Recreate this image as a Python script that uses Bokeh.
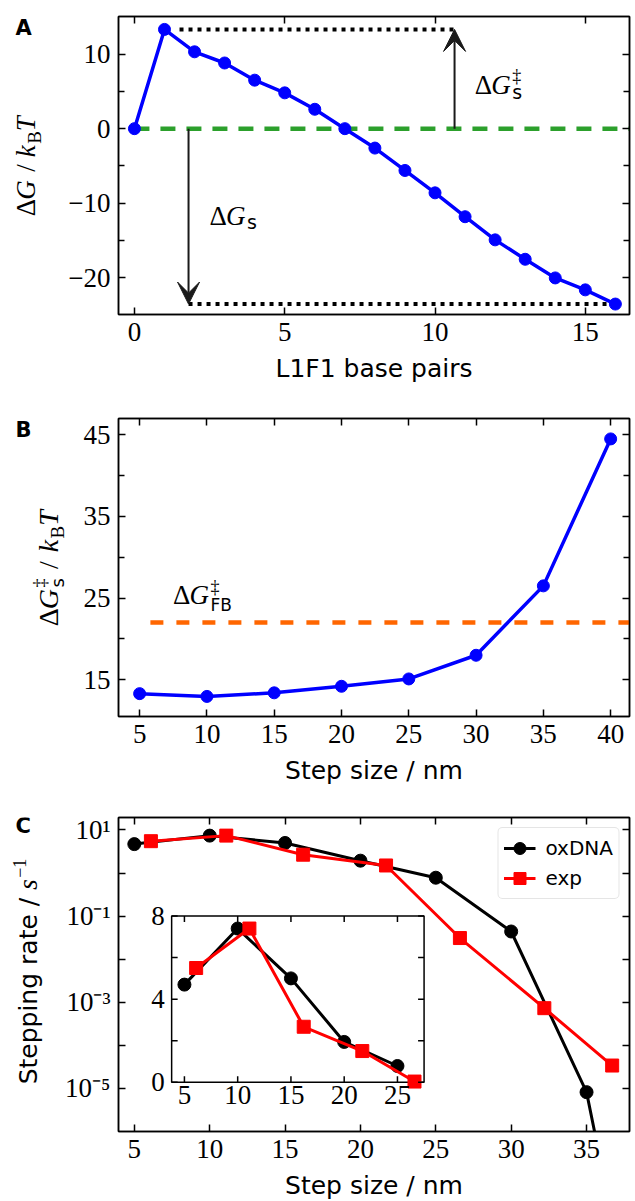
import math
from bokeh.plotting import figure
from bokeh.layouts import column, row
from bokeh.models import (Label, Arrow, VeeHead, FixedTicker, LinearAxis, LogAxis,
                          CustomJSTickFormatter, Range1d, LinearScale, Legend, LegendItem)
from bokeh.embed import file_html
from bokeh.resources import INLINE
from bokeh.core.properties import value

# ---------------- Panel A data ----------------
bp = list(range(17))
dG = [0.0, 13.3, 10.3, 8.8, 6.5, 4.8, 2.6, 0.0, -2.6, -5.6, -8.6, -11.8, -14.9, -17.5, -20.0, -21.6, -23.5]
zero_level = 0.0
a_xticks = [0, 5, 10, 15]
a_yticks = [-20, -10, 0, 10]
a_yminor = [-15, -5, 5]
a_top_dots_x = [1.5, 10.65]
a_bottom_dots_x = [1.8, 16.0]
a_arrow_x = [1.8, 10.65]
a_zero_x = [0.0, 16.5]

# ---------------- Panel B data ----------------
step_b = [5, 10, 15, 20, 25, 30, 35, 40]
barrier = [13.3, 12.96, 13.4, 14.2, 15.1, 18.0, 26.5, 44.5]
fb_level = 22.0
fb_x = [5.8, 41.4]
b_xticks = [5, 10, 15, 20, 25, 30, 35, 40]
b_yticks = [15, 25, 35, 45]
b_yminor = [20, 30, 40]

# ---------------- Panel C data ----------------
series_names = ["oxDNA", "exp"]
step_ox = [5, 10, 15, 20, 25, 30, 35, 40]
rate_ox = [4.7, 7.4, 5.0, 1.94, 0.78, 0.044, 8.2e-6, 2e-14]
step_exp = [6.1, 11.1, 16.2, 21.7, 26.6, 32.2, 36.7]
rate_exp = [5.5, 7.4, 2.67, 1.5, 0.031, 7.3e-4, 3.4e-5]
c_xticks = [5, 10, 15, 20, 25, 30, 35]
c_yticks = [1e-5, 1e-4, 1e-3, 1e-2, 1e-1, 1.0, 10.0]
inset_n = 5
in_xticks = [5, 10, 15, 20, 25]
in_yticks = [0, 4, 8]
in_yminor = [2, 6]
in_xlim = [3.8, 27.5]
in_ylim = [0.0, 8.0]

# ---------------- layout constants ----------------
FW = 511
LEFT_TOTAL, RIGHT = 118, 6
SERIF = "serif"
SANS = "DejaVu Sans"
TICK_PX = "27px"
BASE_CORR = 0.28   # empirical shift of the alphabetic baseline, in em
BLUE, GREEN, ORANGE, RED = "#0000ff", "#2ca02c", "#ff6600", "#ff0000"

W_R = {'Δ': 0.612, '/': 0.278, ' ': 0.25, 'B': 0.667, '−': 0.564, '1': 0.5, '‡': 0.5}
W_I = {'G': 0.722, 'k': 0.444, 'T': 0.556, 's': 0.389}
W_S = {'S': 0.635, 't': 0.392, 'e': 0.615, 'p': 0.635, 'i': 0.278, 'n': 0.634, 'g': 0.635,
       ' ': 0.318, 'r': 0.411, 'a': 0.613, '/': 0.337, 's': 0.521, 'F': 0.575, 'B': 0.686}
KIND = {"r": (SERIF, "normal", W_R), "i": (SERIF, "italic", W_I), "s": (SANS, "normal", W_S)}


def tw(text, kind, size):
    if kind == "gap":
        return size
    tab = KIND[kind][2]
    return sum(tab.get(c, 0.55) for c in text) * size + (1.5 if kind == "i" else 0)


def lab(p, text, x, y, kind="r", size=26, units="data", angle=0.0, x_off=0, y_off=0,
        align="left", baseline="alphabetic", bold=False):
    font, style, _ = KIND[kind]
    if bold:
        style = "bold"
    p.add_layout(Label(x=x, y=y, x_units=units, y_units=units, text=text, text_font=font,
                       text_font_style=style, text_font_size=f"{size}px", angle=angle,
                       x_offset=x_off, y_offset=y_off, text_align=align,
                       text_baseline=baseline, text_color="black"))


def layout_pieces(pieces):
    out, off, pend = [], 0.0, 0.0
    for text, kind, size, shift, adv in pieces:
        if kind != "gap":
            out.append((text, kind, size, shift, off))
        w = tw(text, kind, size)
        if adv:
            off += max(w, pend)
            pend = 0.0
        else:
            pend = max(pend, w)
    return out, off


def hmath(p, x, y, pieces):
    items, _ = layout_pieces(pieces)
    for text, kind, size, shift, off in items:
        lab(p, text, x, y, kind, size, x_off=off, y_off=shift + BASE_CORR * size)


def vmath(p, bx, yc, pieces):
    items, total = layout_pieces(pieces)
    y0 = yc - total / 2
    for text, kind, size, shift, off in items:
        lab(p, text, bx - shift - BASE_CORR * size, y0 + off, kind, size,
            units="screen", angle=math.pi / 2)


def letter(p, text, x, y_from_top, fh):
    size = 21
    lab(p, text, x, fh - y_from_top + BASE_CORR * size, "s", size, units="screen", bold=True)


minus_fmt = CustomJSTickFormatter(code="return tick < 0 ? '\u2212' + Math.abs(tick) : String(tick);")
empty_fmt = CustomJSTickFormatter(code="return '';")


def style_axis(ax, labels=True):
    ax.axis_line_color = "black"
    ax.axis_line_width = 1.5
    ax.major_tick_in, ax.major_tick_out = 7, 0
    ax.minor_tick_in, ax.minor_tick_out = 6, 0
    ax.major_tick_line_width = 1.5
    ax.minor_tick_line_width = 1.5
    ax.major_tick_line_color = "black"
    ax.minor_tick_line_color = "black"
    ax.major_label_text_font = SERIF
    ax.major_label_text_font_size = TICK_PX
    ax.major_label_text_color = "black"
    ax.major_label_standoff = 8
    if not labels:
        ax.formatter = empty_fmt
        ax.major_label_standoff = 0
        ax.major_label_text_font_size = "0px"


def make_fig(xr, yr, lw, fh, top, bottom, y_type="linear"):
    p = figure(frame_width=FW, frame_height=fh, x_range=Range1d(*xr), y_range=Range1d(*yr),
               y_axis_type=y_type, output_backend="svg", toolbar_location=None,
               min_border_left=LEFT_TOTAL - lw, min_border_right=RIGHT,
               min_border_top=top, min_border_bottom=bottom)
    p.grid.visible = False
    p.outline_line_color = "black"
    p.outline_line_width = 1.5
    p.background_fill_color = "white"
    p.border_fill_color = "white"
    return p


def label_fig(width, height):
    f = figure(width=width, height=height, x_range=Range1d(0, 1), y_range=Range1d(0, 1),
               x_axis_location=None, y_axis_location=None, toolbar_location=None,
               output_backend="svg", min_border_left=0, min_border_right=0,
               min_border_top=0, min_border_bottom=0, outline_line_color=None)
    f.grid.visible = False
    f.background_fill_color = "white"
    f.border_fill_color = "white"
    return f


def finish_axes(p, xticker, yticker, xlabel, log=False):
    bx = p.below[0]
    ly = p.left[0]
    bx.ticker = xticker
    ly.ticker = yticker
    style_axis(bx)
    style_axis(ly)
    bx.axis_label = xlabel
    bx.axis_label_text_font = SANS
    bx.axis_label_text_font_style = "normal"
    bx.axis_label_text_font_size = "25px"
    bx.axis_label_text_color = "black"
    bx.axis_label_standoff = 10
    top = LinearAxis(ticker=xticker)
    style_axis(top, labels=False)
    p.add_layout(top, "above")
    right = LogAxis(ticker=yticker) if log else LinearAxis(ticker=yticker)
    style_axis(right, labels=False)
    p.add_layout(right, "right")
    return bx, ly


# ================= Panel A =================
LWA, TA, FHA, BA = 50, 16, 298, 76
HA = TA + FHA + BA
pA = make_fig((-0.53, 16.47), (-24.9, 15.03), LWA, FHA, TA, BA)
ax_a, ay_a = finish_axes(pA, FixedTicker(ticks=a_xticks, minor_ticks=[]),
                         FixedTicker(ticks=a_yticks, minor_ticks=a_yminor), "L1F1 base pairs")
ay_a.formatter = minus_fmt

top_y, bottom_y = max(dG), dG[-1]
pA.line(a_zero_x, [zero_level, zero_level], line_color=GREEN, line_width=4.5, line_dash="15 11")
pA.line(a_top_dots_x, [top_y, top_y], line_color="black", line_width=4, line_dash="4 5")
pA.line(a_bottom_dots_x, [bottom_y, bottom_y], line_color="black", line_width=4, line_dash="4 5")
pA.line(bp, dG, line_color=BLUE, line_width=3.5)
pA.scatter(bp, dG, marker="circle", size=12, fill_color=BLUE, line_color=BLUE)
for ax_x, y_end in zip(a_arrow_x, [bottom_y, top_y]):
    pA.add_layout(Arrow(end=VeeHead(size=22, fill_color="#1a1a1a", line_color="#1a1a1a", line_width=1),
                        x_start=ax_x, y_start=zero_level, x_end=ax_x, y_end=y_end,
                        line_color="#1a1a1a", line_width=2))
hmath(pA, 2.5, -12.7, [("Δ", "r", 27, 0, True), ("G", "i", 27, 0, True), ("s", "s", 19, -4, True)])
hmath(pA, 11.32, 4.86, [("Δ", "r", 27, 0, True), ("G", "i", 27, 0, True),
                        ("s", "s", 19, -5, False), ("‡", "r", 18, 11, True)])

lA = label_fig(LWA, HA)
vmath(lA, 33, FHA / 2, [("Δ", "r", 27, 0, True), ("G", "i", 27, 0, True), ("", "gap", 7, 0, True),
                        ("/", "r", 27, 0, True), ("", "gap", 7, 0, True),
                        ("k", "i", 27, 0, True), ("B", "r", 19, -6, True), ("T", "i", 27, 0, True)])
letter(lA, "A", 15, 17, FHA)

# ================= Panel B =================
LWB, TB, FHB, BB = 74, 28, 298, 74
HB = TB + FHB + BB
pB = make_fig((3.43, 41.4), (10.5, 47.0), LWB, FHB, TB, BB)
finish_axes(pB, FixedTicker(ticks=b_xticks, minor_ticks=[]),
            FixedTicker(ticks=b_yticks, minor_ticks=b_yminor), "Step size / nm")
pB.line(fb_x, [fb_level, fb_level], line_color=ORANGE, line_width=4.5, line_dash="13 13")
pB.line(step_b, barrier, line_color=BLUE, line_width=3.5)
pB.scatter(step_b, barrier, marker="circle", size=12, fill_color=BLUE, line_color=BLUE)
hmath(pB, 7.48, 24.5, [("Δ", "r", 27, 0, True), ("G", "i", 27, 0, True),
                       ("FB", "s", 17, -8, False), ("‡", "r", 18, 10, True)])

lB = label_fig(LWB, HB)
vmath(lB, 56, FHB / 2, [("Δ", "r", 28, 0, True), ("G", "i", 28, 0, True),
                        ("s", "s", 18, -6, False), ("‡", "r", 18, 11, True),
                        ("", "gap", 9, 0, True), ("/", "r", 28, 0, True), ("", "gap", 9, 0, True),
                        ("k", "i", 28, 0, True), ("B", "r", 19, -6, True), ("T", "i", 28, 0, True)])
letter(lB, "B", 15, 17, FHB)

# ================= Panel C =================
LWC, TC, FHC, BC = 52, 27, 314, 68
HC = TC + FHC + BC
pC = make_fig((3.95, 37.85), (1e-6, 10 ** 1.29), LWC, FHC, TC, BC, y_type="log")
ax_c, ay_c = finish_axes(pC, FixedTicker(ticks=c_xticks, minor_ticks=[]),
                         FixedTicker(ticks=c_yticks, minor_ticks=[]), "Step size / nm", log=True)
ay_c.formatter = CustomJSTickFormatter(code="""
const e = Math.round(Math.log10(tick));
if (e % 2 === 0) return '';
const sup = {'-':'\u207b','0':'\u2070','1':'\u00b9','2':'\u00b2','3':'\u00b3','4':'\u2074','5':'\u2075','6':'\u2076','7':'\u2077','8':'\u2078','9':'\u2079'};
return '10' + String(e).split('').map(c => sup[c]).join('');
""")

l1 = pC.line(step_ox, rate_ox, line_color="black", line_width=3)
s1 = pC.scatter(step_ox, rate_ox, marker="circle", size=13, fill_color="black", line_color="black")
l2 = pC.line(step_exp, rate_exp, line_color=RED, line_width=3)
s2 = pC.scatter(step_exp, rate_exp, marker="square", size=13, fill_color=RED, line_color=RED)

# inset drawn on extra linear ranges placed inside the frame
fx = [0.104, 0.598]
fy = [0.157, 0.686]
span_x = (in_xlim[1] - in_xlim[0]) / (fx[1] - fx[0])
span_y = (in_ylim[1] - in_ylim[0]) / (fy[1] - fy[0])
x0 = in_xlim[0] - fx[0] * span_x
y0 = in_ylim[0] - fy[0] * span_y
pC.extra_x_ranges = {"inx": Range1d(x0, x0 + span_x)}
pC.extra_y_ranges = {"iny": Range1d(y0, y0 + span_y)}
pC.extra_x_scales = {"inx": LinearScale()}
pC.extra_y_scales = {"iny": LinearScale()}
IR = dict(x_range_name="inx", y_range_name="iny")
pC.quad(left=[in_xlim[0]], right=[in_xlim[1]], bottom=[in_ylim[0]], top=[in_ylim[1]],
        fill_color="white", line_color="black", line_width=1.5, **IR)
pC.line(step_ox[:inset_n], rate_ox[:inset_n], line_color="black", line_width=3, **IR)
pC.scatter(step_ox[:inset_n], rate_ox[:inset_n], marker="circle", size=13,
           fill_color="black", line_color="black", **IR)
pC.line(step_exp[:inset_n], rate_exp[:inset_n], line_color=RED, line_width=3, **IR)
pC.scatter(step_exp[:inset_n], rate_exp[:inset_n], marker="square", size=13,
           fill_color=RED, line_color=RED, **IR)
tx = 6 * span_x / FW
ty = 6 * span_y / FHC
nx = len(in_xticks)
pC.segment(x0=in_xticks, y0=[in_ylim[0]] * nx, x1=in_xticks, y1=[in_ylim[0] + ty] * nx,
           line_color="black", line_width=1.5, **IR)
pC.segment(x0=in_xticks, y0=[in_ylim[1]] * nx, x1=in_xticks, y1=[in_ylim[1] - ty] * nx,
           line_color="black", line_width=1.5, **IR)
iy_all = sorted(in_yticks + in_yminor)
ny = len(iy_all)
pC.segment(x0=[in_xlim[0]] * ny, y0=iy_all, x1=[in_xlim[0] + tx] * ny, y1=iy_all,
           line_color="black", line_width=1.5, **IR)
pC.segment(x0=[in_xlim[1]] * ny, y0=iy_all, x1=[in_xlim[1] - tx] * ny, y1=iy_all,
           line_color="black", line_width=1.5, **IR)
pC.text(x=in_xticks, y=[in_ylim[0]] * nx, text=[str(t) for t in in_xticks],
        text_font=value(SERIF), text_font_size=TICK_PX, text_color="black",
        text_align="center", text_baseline="top", y_offset=4, **IR)
pC.text(x=[in_xlim[0]] * len(in_yticks), y=in_yticks, text=[str(t) for t in in_yticks],
        text_font=value(SERIF), text_font_size=TICK_PX, text_color="black",
        text_align="right", text_baseline="middle", x_offset=-7, **IR)

legend = Legend(items=[LegendItem(label=series_names[0], renderers=[l1, s1]),
                       LegendItem(label=series_names[1], renderers=[l2, s2])],
                location="top_right")
legend.label_text_font = SANS
legend.label_text_font_size = "20px"
legend.label_text_color = "black"
legend.border_line_color = "#cccccc"
legend.border_line_width = 1.5
legend.background_fill_alpha = 0.8
legend.padding = 5
legend.margin = 10
legend.spacing = 0
legend.glyph_width = 32
legend.glyph_height = 30
legend.label_standoff = 10
try:
    legend.border_radius = 5
except Exception:
    pass
pC.add_layout(legend)

lC = label_fig(LWC, HC)
vmath(lC, 35, FHC / 2, [("Stepping rate /", "s", 25, 0, True), ("", "gap", 8, 0, True),
                        ("s", "i", 27, 0, True), ("−1", "r", 18, 11, True)])
letter(lC, "C", 15, 17, FHC)

page = column(row(lA, pA), row(lB, pB), row(lC, pC))
with open("out.html", "w", encoding="utf-8") as f:
    f.write(file_html(page, INLINE, "chart"))
